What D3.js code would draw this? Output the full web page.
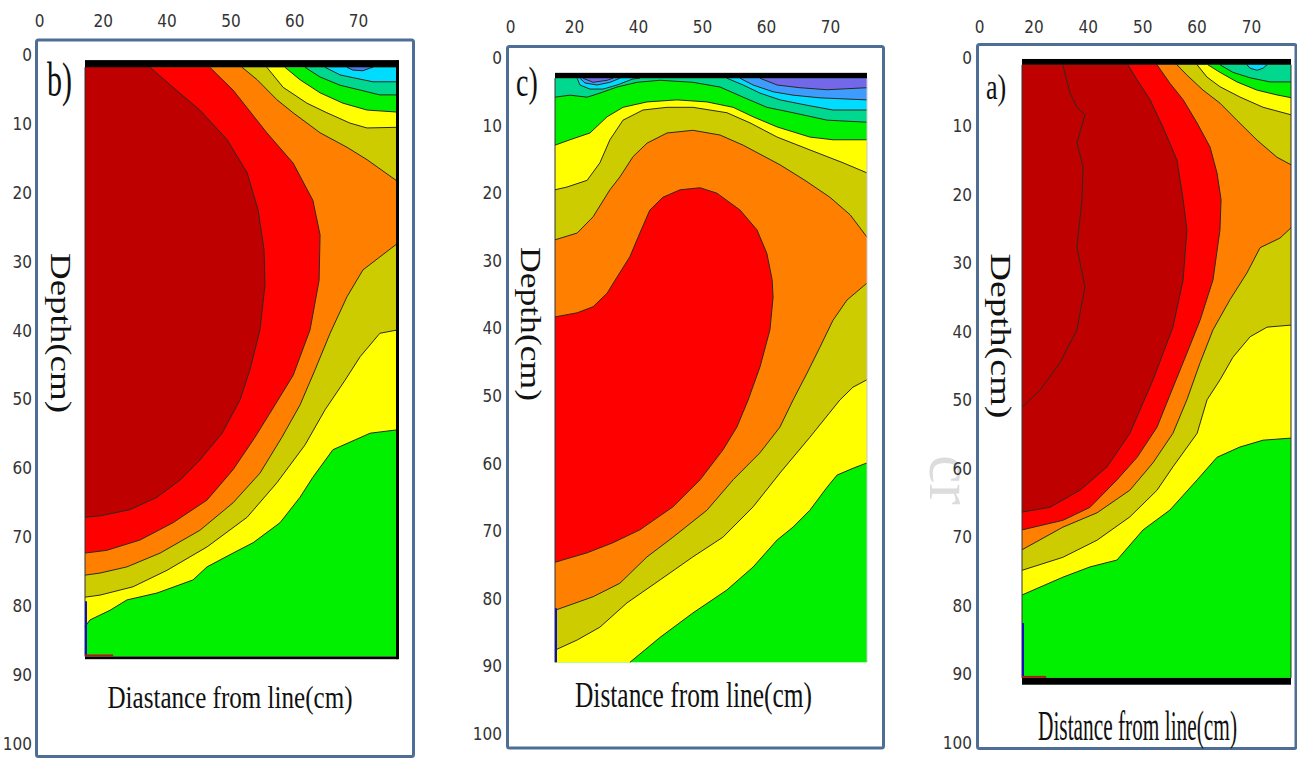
<!DOCTYPE html>
<html>
<head>
<meta charset="utf-8">
<script src="https://cdn.jsdelivr.net/npm/d3@7"></script>
<style>
body { margin: 0; background: #fff; }
svg { display: block; }
</style>
</head>
<body>
<svg id="svg" width="1297" height="760"></svg>
<script>
var xLabels = ["0", "20", "40", "50", "60", "70"];
var depthTicks = [0, 10, 20, 30, 40, 50, 60, 70, 80, 90, 100];

// contour boundaries, each point is [distance across plot (%), depth (cm)]
// panel b
var bDarkRed = [[20.8,1.5],[28.1,4.4],[36.7,7.7],[45.4,12.0],[51.8,16.8],[55.3,22.2],[57.2,28.0],[57.5,33.1],[55.9,39.6],[52.7,45.4],[49.5,49.8],[43.8,54.6],[36.7,58.5],[30.4,61.4],[23.0,63.9],[14.4,65.7],[4.8,66.6],[0,66.8]];
var bRed = [[39.9,1.5],[47.3,4.8],[58.1,11.0],[66.5,15.4],[72.8,20.8],[75.1,25.8],[74.8,32.4],[71.9,39.6],[66.5,46.2],[60.7,50.5],[54.3,55.2],[47.3,59.9],[39.0,64.3],[28.1,67.6],[17.6,70.1],[7.0,71.6],[0,72.0]];
var bOrangeTop = [[50.2,1.5],[55.0,3.3],[61.3,6.2],[66.5,8.1],[75.1,11.0],[83.7,13.1],[90.1,14.9],[100,18.1]];
var bOrangeLow = [[100,27.0],[88.8,30.9],[83.7,34.8],[78.3,40.1],[73.5,45.4],[68.7,50.5],[62.9,55.2],[55.9,60.4],[47.3,64.7],[36.7,68.7],[24.0,72.0],[13.4,74.0],[4.8,74.9],[0,75.2]];
var bOliveTop = [[58.1,1.5],[63.3,4.4],[70.9,6.7],[77.3,8.1],[84.7,9.6],[90.1,10.3],[100,10.2]];
var bOliveLow = [[100,39.6],[94.2,40.1],[87.9,43.5],[83.1,46.9],[76.7,51.2],[70.3,56.3],[61.3,61.8],[51.8,66.8],[39.0,71.1],[26.2,74.5],[15.3,76.9],[4.8,78.1],[0,78.4]];
var bYellowTop = [[63.9,1.5],[68.7,3.3],[75.1,5.2],[82.4,6.7],[90.1,7.7],[100,8.0]];
var bYellowLow = [[100,54.1],[91.1,54.6],[79.2,57.0],[72.8,61.0],[68.7,63.9],[62.3,67.6],[53.7,70.5],[47.3,72.0],[39.0,74.0],[34.5,75.9],[23.0,77.8],[13.4,78.8],[8.0,80.3],[1.6,81.7],[0,82.7]];
var bSeafoam = [[70.3,1.5],[75.1,2.9],[81.5,4.1],[87.9,4.8],[94.2,5.5],[100,5.5]];
var bCyan = [[76.7,1.5],[81.5,2.6],[85.6,3.0],[92.0,3.6],[100,3.6]];
var bBlue = [[83.7,1.5],[85.6,1.9],[88.8,2.0],[91.1,1.6],[92.0,1.5]];

// panel c
var cPurpleL = [[9.0,2.7],[12.2,3.3],[16.7,3.0],[18.6,2.7]];
var cPurpleR = [[65.7,2.7],[71.2,3.7],[78.5,4.1],[87.2,4.4],[100,4.1]];
var cBlueL = [[8.0,2.7],[9.6,3.4],[13.5,3.7],[17.6,3.3],[20.8,2.7]];
var cBlueR = [[59.3,2.7],[63.5,3.7],[69.9,4.7],[76.3,5.2],[84.9,5.6],[100,5.9]];
var cCyanL = [[7.1,2.7],[8.0,3.7],[11.2,4.3],[15.4,4.3],[19.9,3.7],[25.0,2.8],[27.2,2.7]];
var cCyanR = [[55.1,2.7],[60.3,3.7],[65.7,4.9],[72.1,5.9],[80.8,6.7],[89.1,7.4],[100,7.4]];
var cSeafoam = [[0,5.5],[4.8,5.2],[10.3,5.5],[14.4,4.9],[19.9,4.0],[26.3,3.3],[33.7,3.0],[44.2,3.3],[52.9,4.0],[60.3,5.5],[67.9,7.0],[76.3,7.8],[87.2,8.9],[100,9.2]];
var cYellowTop = [[0,12.6],[4.8,11.8],[11.2,10.8],[16.7,8.4],[21.8,7.0],[29.5,6.2],[39.1,5.9],[48.7,6.2],[57.1,7.0],[63.5,8.4],[71.2,9.9],[81.7,11.4],[89.1,11.8],[100,11.8]];
var cYellowLow = [[100,59.6],[95.5,60.4],[90.4,61.4],[87.2,63.2],[81.7,66.6],[76.3,69.1],[71.2,71.0],[63.5,75.0],[55.1,78.4],[44.2,81.8],[33.7,85.4],[24.0,89.1]];
var cOliveTop = [[0,19.2],[3.8,18.8],[10.3,17.8],[14.4,15.2],[17.6,11.8],[21.8,8.9],[28.2,7.4],[35.9,7.0],[44.2,7.0],[55.1,7.8],[62.5,9.3],[71.2,11.4],[81.7,13.3],[92.3,15.2],[100,16.7]];
var cOliveLow = [[100,47.3],[95.5,48.4],[91.3,50.3],[81.7,55.8],[72.1,61.1],[63.5,66.1],[53.8,70.6],[44.2,73.5],[33.7,76.9],[23.1,80.3],[14.4,83.9],[7.1,85.8],[0,87.3]];
var cOrangeTop = [[0,26.6],[7.1,25.6],[12.2,23.2],[17.6,19.2],[20.8,17.3],[25.0,14.3],[29.5,12.3],[35.9,10.8],[44.2,10.4],[52.9,11.1],[60.3,12.6],[72.1,15.5],[80.1,17.8],[88.1,20.3],[94.6,22.9],[100,26.2]];
var cOrangeLow = [[100,33.0],[93.6,35.5],[89.1,38.5],[84.9,42.5],[80.8,46.3],[76.3,50.3],[72.1,54.3],[65.7,58.1],[57.1,62.1],[48.7,66.6],[37.8,70.6],[29.5,73.5],[20.8,77.4],[12.2,79.4],[0,81.4]];
var cRed = [[0,38.0],[7.1,37.4],[12.2,36.5],[16.7,34.5],[19.9,32.1],[24.0,29.1],[27.2,25.6],[30.4,22.2],[34.6,20.3],[40.1,19.2],[46.5,18.9],[51.9,19.7],[59.3,22.2],[64.7,25.1],[67.9,28.6],[69.6,32.5],[69.9,35.1],[68.9,39.9],[65.7,45.4],[61.9,50.3],[58.3,54.3],[53.8,57.7],[46.5,62.1],[37.8,66.1],[27.2,69.5],[18.6,71.4],[10.3,72.9],[0,74.3]];

// panel a
var aInner = [[15.2,0.7],[17.8,4.8],[20.4,6.9],[23.4,8.0],[20.4,12.1],[22.7,15.6],[22.3,20.4],[20.4,27.3],[23.4,33.1],[20.4,39.4],[14.1,44.2],[6.7,48.2],[0,50.7]];
var aDarkRed = [[39.4,0.7],[42.8,2.9],[47.6,5.8],[52.4,9.8],[57.6,14.6],[59.9,20.4],[61.3,24.8],[59.9,32.1],[56.1,39.0],[48.7,46.7],[40.1,54.5],[31.6,59.4],[21.6,62.8],[10.4,65.3],[0,66.0]];
var aRed = [[50.2,0.7],[55.0,3.4],[59.9,5.8],[65.1,9.2],[69.9,12.7],[72.5,16.5],[74.0,20.4],[73.6,24.8],[71.0,32.1],[66.2,38.0],[61.3,42.8],[55.0,48.9],[50.2,53.6],[42.8,58.0],[35.3,61.3],[25.3,65.3],[15.2,67.2],[0,68.6]];
var aOrangeTop = [[57.6,0.7],[61.3,2.2],[67.3,4.4],[73.6,6.3],[79.9,8.8],[87.4,11.7],[94.8,14.2],[100,15.3]];
var aOrangeLow = [[100,24.5],[95.9,26.0],[88.5,27.4],[83.6,31.1],[77.3,35.0],[71.0,39.4],[66.2,44.2],[61.3,49.6],[56.1,54.5],[48.7,58.8],[40.1,62.8],[27.9,66.1],[15.2,68.2],[0,71.5]];
var aOliveTop = [[65.1,0.7],[68.8,2.5],[73.6,3.9],[81.0,5.4],[89.6,6.9],[100,8.0]];
var aOliveLow = [[100,38.7],[91.1,39.0],[84.8,40.4],[78.4,43.4],[73.6,46.7],[68.8,49.6],[65.1,54.5],[56.1,59.4],[50.2,62.8],[40.1,66.7],[27.9,70.1],[15.2,72.6],[0,74.5]];
var aYellowTop = [[69.1,0.7],[73.6,1.8],[79.9,3.2],[87.4,4.4],[94.8,5.1],[100,5.5]];
var aYellowLow = [[100,55.2],[89.6,55.5],[81.0,56.5],[72.5,58.0],[65.1,61.3],[55.0,65.7],[45.0,68.6],[35.3,73.0],[25.3,74.0],[15.2,75.5],[0,78.1]];
var aSeafoam = [[73.6,0.7],[78.4,1.8],[84.8,2.6],[92.2,3.2],[100,3.2]];
var aCyan = [[83.6,0.7],[84.8,1.2],[87.4,1.5],[89.6,1.2],[91.1,0.7]];

var colors = {
    darkred: "#bf0000", red: "#ff0000", orange: "#ff8000", olive: "#cccc00",
    yellow: "#ffff00", green: "#00f000", seafoam: "#00d890", cyan: "#00dcff",
    lightblue: "#3f9cff", blue: "#4d79f0", purple: "#7468ea"
};

var panels = [
    { tag: "b)", title: "Diastance from line(cm)",
      frame: [36.5, 40, 413.5, 756.5], plotX: [85, 398], depthPx: [57, 746],
      top: 1.5, bottom: 87, topBar: 0.45, bottomBar: 87.4, rightBar: true,
      xLabelPx: [39, 358], xLabelY: 27, yLabelX: 32,
      tagPos: [47, 96, 30, 1.6], depthPos: [61, 333, 160], titlePos: [230, 708, 245, 1.25],
      bands: [
        { fill: "yellow", lines: [bYellowTop, bYellowLow], corners: ["tl"] },
        { fill: "olive", lines: [bOliveTop, bOliveLow], corners: ["tl"] },
        { fill: "orange", lines: [bOrangeTop, bOrangeLow], corners: ["tl"] },
        { fill: "red", lines: [bRed], corners: ["tl"] },
        { fill: "darkred", lines: [bDarkRed], corners: ["tl"] },
        { fill: "seafoam", lines: [bSeafoam], corners: ["tr"] },
        { fill: "cyan", lines: [bCyan], corners: ["tr"] },
        { fill: "blue", lines: [bBlue], corners: [] }
      ],
      strokes: [bYellowTop, bYellowLow, bOliveTop, bOliveLow, bOrangeTop, bOrangeLow, bRed, bDarkRed, bSeafoam, bCyan, bBlue] },
    { tag: "c)", title: "Distance from line(cm)",
      frame: [507.5, 46.5, 883.5, 748], plotX: [555, 867], depthPx: [60, 736],
      top: 2.7, bottom: 89.1, topBar: 1.9, bottomBar: null, rightBar: false,
      xLabelPx: [510, 830], xLabelY: 33, yLabelX: 502,
      tagPos: [516, 96, 28, 1.5], depthPos: [531, 324, 154], titlePos: [693.5, 707, 237, 1.35],
      bands: [
        { fill: "yellow", lines: [cYellowTop, cYellowLow], corners: ["bl"] },
        { fill: "olive", lines: [cOliveTop, cOliveLow], corners: [] },
        { fill: "orange", lines: [cOrangeTop, cOrangeLow], corners: [] },
        { fill: "red", lines: [cRed], corners: [] },
        { fill: "seafoam", lines: [cSeafoam], corners: ["tr", "tl"] },
        { fill: "cyan", lines: [cCyanL], corners: [] },
        { fill: "cyan", lines: [cCyanR], corners: ["tr"] },
        { fill: "lightblue", lines: [cBlueL], corners: [] },
        { fill: "lightblue", lines: [cBlueR], corners: ["tr"] },
        { fill: "purple", lines: [cPurpleL], corners: [] },
        { fill: "purple", lines: [cPurpleR], corners: ["tr"] }
      ],
      strokes: [cYellowTop, cYellowLow, cOliveTop, cOliveLow, cOrangeTop, cOrangeLow, cRed, cSeafoam, cCyanL, cCyanR, cBlueL, cBlueR, cPurpleL, cPurpleR] },
    { tag: "a)", title: "Distance from line(cm)",
      frame: [977.5, 44.5, 1296, 748.5], plotX: [1022, 1291], depthPx: [60, 745],
      top: 0.7, bottom: 90.2, topBar: -0.15, bottomBar: 91.2, rightBar: false,
      xLabelPx: [979, 1251], xLabelY: 33, yLabelX: 972,
      tagPos: [986, 99, 26, 1.4], depthPos: [1001, 336, 165], titlePos: [1137.5, 740, 199, 1.65],
      bands: [
        { fill: "yellow", lines: [aYellowTop, aYellowLow], corners: ["tl"] },
        { fill: "olive", lines: [aOliveTop, aOliveLow], corners: ["tl"] },
        { fill: "orange", lines: [aOrangeTop, aOrangeLow], corners: ["tl"] },
        { fill: "red", lines: [aRed], corners: ["tl"] },
        { fill: "darkred", lines: [aDarkRed], corners: ["tl"] },
        { fill: "seafoam", lines: [aSeafoam], corners: ["tr"] },
        { fill: "cyan", lines: [aCyan], corners: [] }
      ],
      strokes: [aYellowTop, aYellowLow, aOliveTop, aOliveLow, aOrangeTop, aOrangeLow, aRed, aDarkRed, aInner, aSeafoam, aCyan] }
];

var svg = d3.select("#svg");

// faint watermark showing between the panels
svg.append("text")
    .attr("transform", "translate(930,455) rotate(90)")
    .attr("font-family", "Liberation Serif")
    .attr("font-size", 64)
    .attr("fill", "#dcdcdc")
    .text("cr");

panels.forEach(function(p) {
    var g = svg.append("g");
    var x = d3.scaleLinear().domain([0, 100]).range(p.plotX);
    var y = d3.scaleLinear().domain([0, 100]).range(p.depthPx);
    var line = d3.line().x(function(d) { return x(d[0]); }).y(function(d) { return y(d[1]); });
    var corner = { tl: [0, p.top], tr: [100, p.top], bl: [0, p.bottom], br: [100, p.bottom] };

    // frame
    g.append("rect")
	.attr("x", p.frame[0]).attr("y", p.frame[1])
	.attr("width", p.frame[2] - p.frame[0]).attr("height", p.frame[3] - p.frame[1])
	.attr("rx", 2)
	.attr("fill", "none")
	.attr("stroke", "#4e6e96")
	.attr("stroke-width", 3);

    // base colour, then contour bands on top
    g.append("rect")
	.attr("x", x(0)).attr("y", y(p.top))
	.attr("width", x(100) - x(0)).attr("height", y(p.bottom) - y(p.top))
	.attr("fill", colors.green);

    p.bands.forEach(function(b) {
	var pts = [];
	b.lines.forEach(function(l) { pts = pts.concat(l); });
	b.corners.forEach(function(c) { pts.push(corner[c]); });
	g.append("path")
	    .attr("d", line(pts) + "Z")
	    .attr("fill", colors[b.fill]);
    });

    p.strokes.forEach(function(l) {
	g.append("path")
	    .attr("d", line(l))
	    .attr("fill", "none")
	    .attr("stroke", "#2a2a1e")
	    .attr("stroke-width", 1)
	    .attr("stroke-linejoin", "round");
    });

    // plot edges and black bars
    g.append("line")
	.attr("x1", x(0)).attr("x2", x(0)).attr("y1", y(p.top)).attr("y2", y(p.bottom))
	.attr("stroke", "#333").attr("stroke-width", 1);
    if (!p.rightBar) {
	g.append("line")
	    .attr("x1", x(100)).attr("x2", x(100)).attr("y1", y(p.top)).attr("y2", y(p.bottom))
	    .attr("stroke", p.tag == "c)" ? "#c8c8c8" : "#333").attr("stroke-width", 1);
    }
    g.append("rect")
	.attr("x", x(0)).attr("y", y(p.topBar))
	.attr("width", x(100) - x(0)).attr("height", y(p.top) - y(p.topBar))
	.attr("fill", "#000");
    if (p.bottomBar != null) {
	g.append("rect")
	    .attr("x", x(0)).attr("y", y(p.bottom))
	    .attr("width", x(100) - x(0)).attr("height", y(p.bottomBar) - y(p.bottom))
	    .attr("fill", "#000");
    }
    if (p.rightBar) {
	g.append("rect")
	    .attr("x", x(100) - 2).attr("y", y(p.topBar))
	    .attr("width", 3).attr("height", y(p.bottomBar) - y(p.topBar))
	    .attr("fill", "#000");
    }

    // little axis glyph in the bottom-left corner
    g.append("line")
	.attr("x1", x(0) + 1).attr("x2", x(0) + 1)
	.attr("y1", y(p.bottom - 8)).attr("y2", y(p.bottom))
	.attr("stroke", "#1010c0").attr("stroke-width", 2);
    if (p.tag != "c)") {
	g.append("line")
	    .attr("x1", x(0)).attr("x2", x(9))
	    .attr("y1", y(p.bottom) - 1).attr("y2", y(p.bottom) - 1)
	    .attr("stroke", "#b01818").attr("stroke-width", 2);
    }

    // tick labels
    var xp = d3.scalePoint().domain(xLabels).range(p.xLabelPx);
    g.append("g")
	.attr("transform", "translate(0," + p.xLabelY + ")")
	.call(d3.axisTop(xp).tickSize(0).tickPadding(0))
	.call(function(s) { s.select(".domain").remove(); })
	.selectAll("text")
	.attr("font-family", "'Liberation Sans Narrow', 'DejaVu Sans Condensed', sans-serif")
	.attr("font-size", 17)
	.attr("fill", "#333");

    g.append("g")
	.attr("transform", "translate(" + p.yLabelX + ",-2)")
	.call(d3.axisLeft(y).tickValues(depthTicks).tickSize(0).tickPadding(0))
	.call(function(s) { s.select(".domain").remove(); })
	.selectAll("text")
	.attr("font-family", "'Liberation Sans Narrow', 'DejaVu Sans Condensed', sans-serif")
	.attr("font-size", 17)
	.attr("fill", "#333");

    // texts
    g.append("text")
	.attr("transform", "translate(" + p.tagPos[0] + "," + p.tagPos[1] + ") scale(1," + p.tagPos[3] + ")")
	.attr("font-family", "'Liberation Serif', serif")
	.attr("font-size", p.tagPos[2])
	.attr("fill", "#111")
	.text(p.tag);

    g.append("text")
	.attr("transform", "translate(" + p.depthPos[0] + "," + p.depthPos[1] + ") rotate(90)")
	.attr("text-anchor", "middle")
	.attr("dy", "0.35em")
	.attr("font-family", "'Liberation Serif', serif")
	.attr("font-size", 29)
	.attr("textLength", p.depthPos[2])
	.attr("lengthAdjust", "spacingAndGlyphs")
	.attr("fill", "#111")
	.text("Depth(cm)");

    g.append("text")
	.attr("transform", "translate(" + p.titlePos[0] + "," + p.titlePos[1] + ") scale(1," + p.titlePos[3] + ")")
	.attr("text-anchor", "middle")
	.attr("font-family", "'Liberation Serif', serif")
	.attr("font-size", 26)
	.attr("textLength", p.titlePos[2])
	.attr("lengthAdjust", "spacingAndGlyphs")
	.attr("fill", "#111")
	.text(p.title);
});
</script>
</body>
</html>
